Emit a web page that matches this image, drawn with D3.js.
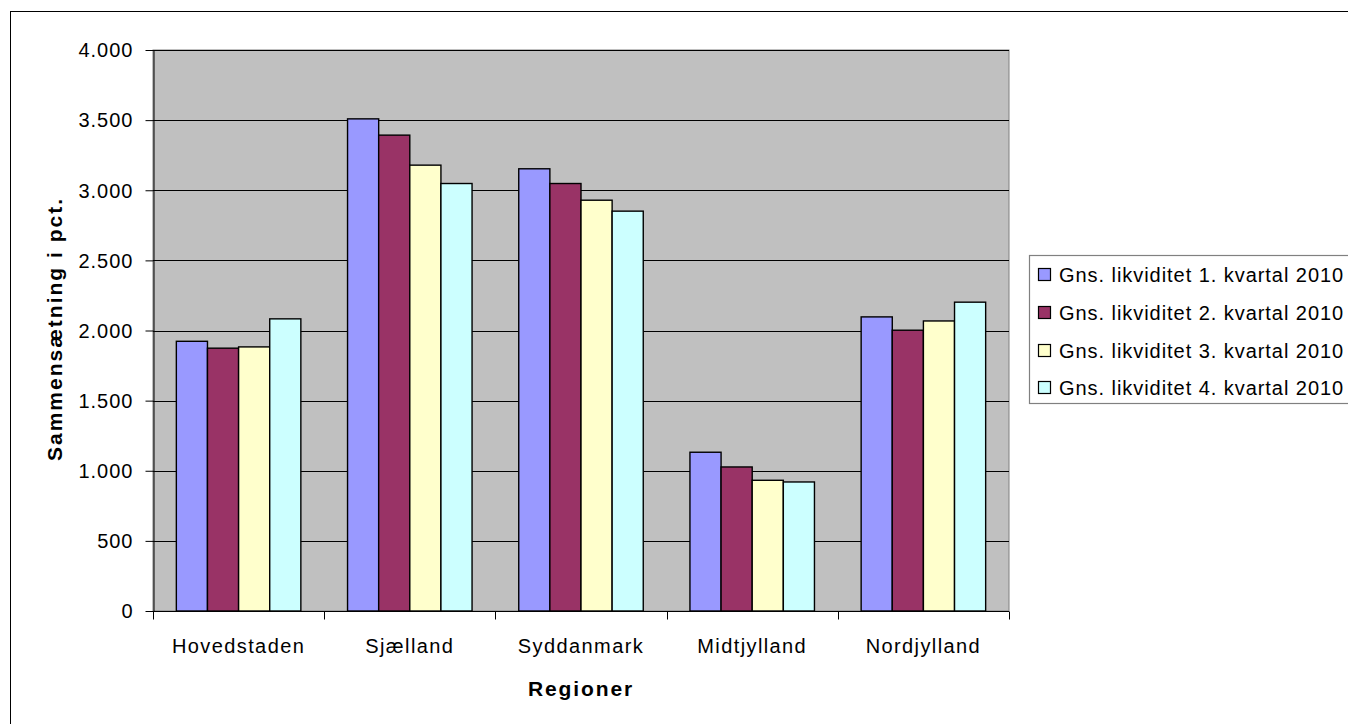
<!DOCTYPE html>
<html><head><meta charset="utf-8">
<script src="https://cdn.jsdelivr.net/npm/d3@7"></script>
<style>
html,body{margin:0;padding:0;background:#fff;}
svg{display:block;}
text{font-family:"Liberation Sans",Arial,sans-serif;fill:#000;}
</style></head>
<body>
<svg id="c" width="1348" height="724"></svg>
<script>
const categories = ["Hovedstaden","Sjælland","Syddanmark","Midtjylland","Nordjylland"];
const seriesNames = ["Gns. likviditet 1. kvartal 2010","Gns. likviditet 2. kvartal 2010","Gns. likviditet 3. kvartal 2010","Gns. likviditet 4. kvartal 2010"];
const q1 = [1923, 3509, 3153, 1132, 2097];
const q2 = [1874, 3393, 3048, 1027, 2002];
const q3 = [1883, 3179, 2929, 932, 2068];
const q4 = [2083, 3048, 2851, 920, 2202];
const seriesColors = ["#9999FF","#993366","#FFFFCC","#CCFFFF"];
const yTicks = [0,500,1000,1500,2000,2500,3000,3500,4000];
const yTitle = "Sammensætning i pct.";
const xTitle = "Regioner";

const seriesValues = [q1,q2,q3,q4];
const svg = d3.select("#c");
const L = 153, R = 1009, T = 50, B = 611;
const fmt = d3.formatLocale({decimal:",", thousands:".", grouping:[3], currency:["",""]}).format(",d");

// outer chart border
svg.append("rect").attr("x",10.5).attr("y",11.5).attr("width",1400).attr("height",800)
  .attr("fill","#fff").attr("stroke","#000").attr("stroke-width",1);

const y = d3.scaleLinear().domain([0,4000]).range([B,T]);
const x0 = d3.scaleBand().domain(categories).range([L,R]).padding(0);
const C = x0.bandwidth();
const w = C/5.5;
const x1 = d3.scaleBand().domain(d3.range(seriesNames.length)).range([0.75*w, C-0.75*w]).padding(0);

// plot area
svg.append("rect").attr("x",L).attr("y",T).attr("width",R-L).attr("height",B-T)
  .attr("fill","#C0C0C0").attr("stroke","#808080").attr("stroke-width",1);

// gridlines
svg.append("g").selectAll("line").data(yTicks.filter(d=>d>0)).join("line")
  .attr("x1",L).attr("x2",R)
  .attr("y1",d=>Math.round(y(d))+0.5).attr("y2",d=>Math.round(y(d))+0.5)
  .attr("stroke","#000").attr("stroke-width",1);

// bars
const g = svg.append("g");
seriesValues.forEach((vals,si)=>{
  g.append("g").selectAll("rect").data(vals).join("rect")
    .attr("x",(d,i)=>x0(categories[i])+x1(si))
    .attr("y",d=>y(d))
    .attr("width",x1.bandwidth())
    .attr("height",d=>B-y(d))
    .attr("fill",seriesColors[si])
    .attr("stroke","#000").attr("stroke-width",1.4);
});

// y axis
const yAxis = d3.axisLeft(y).tickValues(yTicks).tickFormat(fmt).tickSizeInner(8).tickSizeOuter(0).tickPadding(12);
const ya = svg.append("g").attr("transform",`translate(${L+0.5},0)`).call(yAxis);
ya.select(".domain").attr("stroke","#000");
ya.selectAll(".tick line").attr("stroke","#000");
ya.selectAll(".tick text").attr("font-size",20).attr("font-family","Liberation Sans, Arial, sans-serif")
  .attr("letter-spacing","1px").attr("dy","0.34em").attr("x",-20);

// x axis
const xa = svg.append("g").attr("transform",`translate(0,${B+0.5})`);
xa.append("line").attr("x1",L).attr("x2",R).attr("stroke","#000");
xa.selectAll("line.tk").data(d3.range(categories.length+1)).join("line").attr("class","tk")
  .attr("x1",i=>Math.round(L+i*C)+0.5).attr("x2",i=>Math.round(L+i*C)+0.5)
  .attr("y1",0).attr("y2",8).attr("stroke","#000");
xa.selectAll("text").data(categories).join("text")
  .attr("x",d=>x0(d)+C/2).attr("y",41).attr("text-anchor","middle")
  .attr("font-size",20).attr("letter-spacing","1.4px").text(d=>d);

// axis titles
svg.append("text").attr("x",(L+R)/2).attr("y",696).attr("text-anchor","middle")
  .attr("font-size",21).attr("font-weight","bold").attr("letter-spacing","1.9px").text(xTitle);
svg.append("text").attr("transform",`translate(62,${329}) rotate(-90)`).attr("text-anchor","middle")
  .attr("font-size",21).attr("font-weight","bold").attr("letter-spacing","2px").text(yTitle);

// legend
const lg = svg.append("g");
lg.append("rect").attr("x",1029.5).attr("y",255.5).attr("width",330).attr("height",148)
  .attr("fill","#fff").attr("stroke","#808080").attr("stroke-width",1.2);
const rowY = [268, 306, 344, 381];
seriesNames.forEach((s,i)=>{
  lg.append("rect").attr("x",1038.5).attr("y",rowY[i]+0.5).attr("width",12).attr("height",12)
    .attr("fill",seriesColors[i]).attr("stroke","#000").attr("stroke-width",1.2);
  lg.append("text").attr("x",1059).attr("y",rowY[i]+13.8).attr("font-size",20)
    .attr("letter-spacing","0.95px").text(s);
});
</script>
</body></html>
